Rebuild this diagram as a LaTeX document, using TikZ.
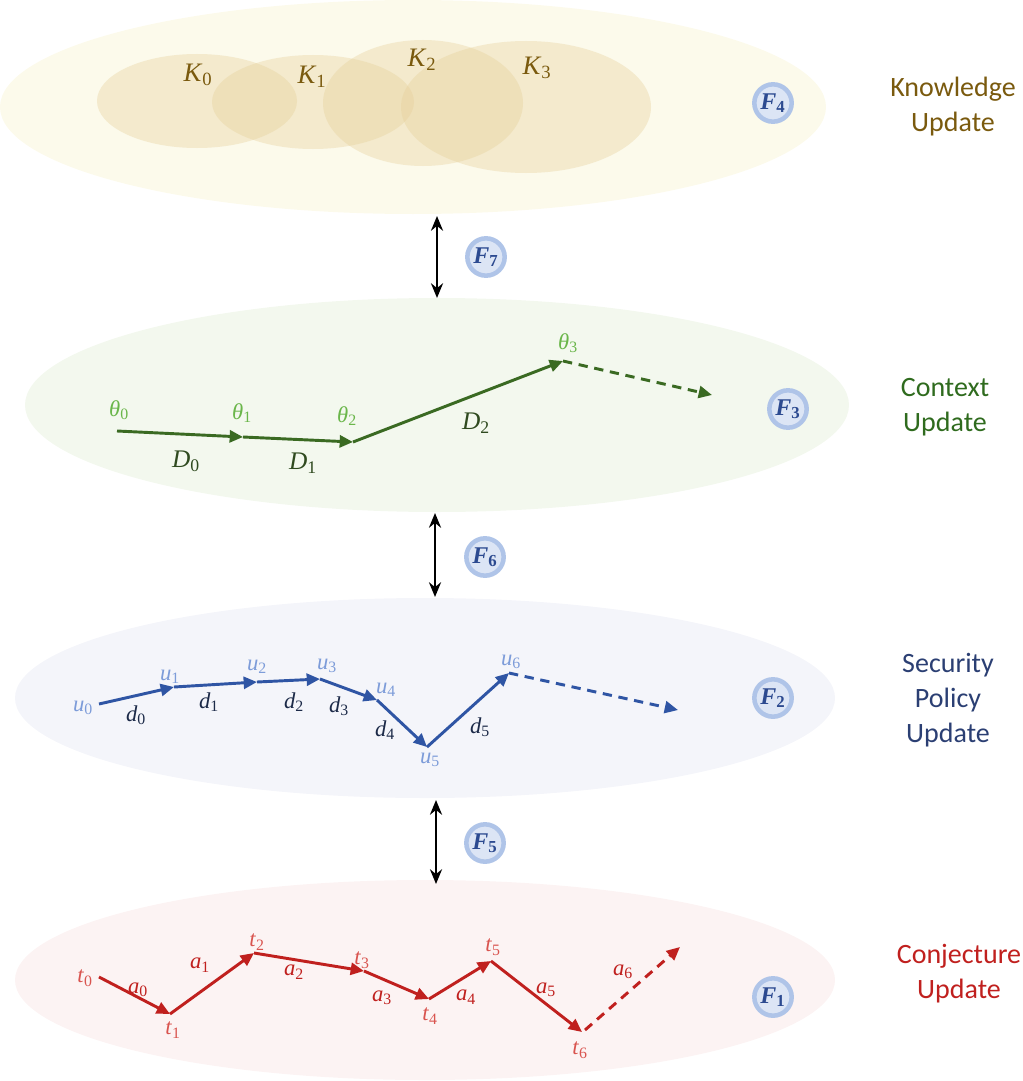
\documentclass[tikz,border=0pt]{standalone}
\usepackage{fontspec}
\setmainfont{Liberation Serif}
\newfontfamily\capfont{Carlito}
\usetikzlibrary{arrows.meta}

% layer colours
\definecolor{klayer}{HTML}{FCFAEB}
\definecolor{kset}{HTML}{E6CF98}
\definecolor{ktext}{HTML}{7A5A0E}
\definecolor{glayer}{HTML}{F3F8EE}
\definecolor{gline}{HTML}{3A6A22}
\definecolor{glab}{HTML}{6AB64A}
\definecolor{gdark}{HTML}{2F4A1F}
\definecolor{gtitle}{HTML}{2F6B1E}
\definecolor{blayer}{HTML}{F4F5FA}
\definecolor{bline}{HTML}{2F55A4}
\definecolor{blab}{HTML}{7D9CD9}
\definecolor{bdark}{HTML}{1C2A48}
\definecolor{btitle}{HTML}{2B3F73}
\definecolor{rlayer}{HTML}{FCF3F3}
\definecolor{rline}{HTML}{C0201E}
\definecolor{rlab}{HTML}{D9544F}
\definecolor{rtitle}{HTML}{C0201E}
\definecolor{ring}{HTML}{AFC4E8}
\definecolor{disc}{HTML}{DCE5F5}
\definecolor{ftext}{HTML}{2C4A90}

\newcommand\varsub[2]{\textit{#1}\textsubscript{#2}}
\newcommand\badgetext[1]{\textbf{\textit{F}}\textsubscript{\textbf{#1}}}

\tikzset{
  badge/.style={circle, fill=disc, draw=ring, line width=3.4pt, minimum size=28pt,
    inner sep=0pt, text=ftext, font=\fontsize{18}{19}\selectfont},
  title/.style={align=center, font=\capfont\fontsize{21}{26.3}\selectfont},
  seg/.style={line width=2.2pt, -{Triangle[length=10pt,width=9pt]}},
  future/.style={seg, dash pattern=on 7pt off 5pt},
  link/.style={line width=2pt, black, {Stealth[length=11pt,width=9pt]}-{Stealth[length=11pt,width=9pt]}},
  klabel/.style={text=ktext, font=\fontsize{20}{22}\selectfont},
  glabel/.style={text=glab, font=\fontsize{17}{19}\selectfont},
  dlabel/.style={font=\fontsize{19}{21}\selectfont},
  small/.style={font=\fontsize{17}{19}\selectfont},
}

\begin{document}
\begin{tikzpicture}[x=0.75pt,y=-0.75pt]
\useasboundingbox (0,0) rectangle (1022,1081);

% ---- layer backgrounds
\fill[klayer] (413,107) ellipse [x radius=413, y radius=107];
\fill[glayer] (437,405) ellipse [x radius=412, y radius=107];
\fill[blayer] (425,698) ellipse [x radius=410, y radius=100];
\fill[rlayer] (425,980) ellipse [x radius=410, y radius=100];

% ---- knowledge sets
\begin{scope}[fill=kset, fill opacity=0.36]
  \fill (197,101) ellipse [x radius=100, y radius=47];
  \fill (313,102) ellipse [x radius=101, y radius=47];
  \fill (423,103) ellipse [x radius=100, y radius=63];
  \fill (526,107) ellipse [x radius=125, y radius=66];
\end{scope}
\node[klabel] (k0) at (198,75) {\varsub{K}{0}};
\node[klabel] (k1) at (312,77) {\varsub{K}{1}};
\node[klabel] (k2) at (422,60) {\varsub{K}{2}};
\node[klabel] (k3) at (537,68) {\varsub{K}{3}};

% ---- context trajectory
\coordinate (g0) at (117,431);
\coordinate (g1) at (243,437);
\coordinate (g2) at (353,442);
\coordinate (g3) at (563,361);
\coordinate (g4) at (712,395);
\draw[seg, gline] (g0) -- (g1);
\draw[seg, gline] (g1) -- (g2);
\draw[seg, gline] (g2) -- (g3);
\draw[future, gline] (g3) -- (g4);
\node[glabel] (th0) at (119,410) {\varsub{θ}{0}};
\node[glabel] (th1) at (242,413) {\varsub{θ}{1}};
\node[glabel] (th2) at (347,416) {\varsub{θ}{2}};
\node[glabel] (th3) at (568,343) {\varsub{θ}{3}};
\node[dlabel, text=gdark] (D0) at (186,461) {\varsub{D}{0}};
\node[dlabel, text=gdark] (D1) at (303,463) {\varsub{D}{1}};
\node[dlabel, text=gdark] (D2) at (476,423) {\varsub{D}{2}};

% ---- security policy trajectory
\coordinate (b0) at (99,704);
\coordinate (b1) at (174,687);
\coordinate (b2) at (257,682);
\coordinate (b3) at (320,679);
\coordinate (b4) at (377,700);
\coordinate (b5) at (427,747);
\coordinate (b6) at (509,673);
\coordinate (b7) at (678,710);
\draw[seg, bline] (b0) -- (b1);
\draw[seg, bline] (b1) -- (b2);
\draw[seg, bline] (b2) -- (b3);
\draw[seg, bline] (b3) -- (b4);
\draw[seg, bline] (b4) -- (b5);
\draw[seg, bline] (b5) -- (b6);
\draw[future, bline] (b6) -- (b7);
\node[small, text=blab] (u0) at (83,708) {\varsub{u}{0}};
\node[small, text=blab] (u1) at (170,677) {\varsub{u}{1}};
\node[small, text=blab] (u2) at (257,667) {\varsub{u}{2}};
\node[small, text=blab] (u3) at (327,666) {\varsub{u}{3}};
\node[small, text=blab] (u4) at (386,690) {\varsub{u}{4}};
\node[small, text=blab] (u5) at (430,760) {\varsub{u}{5}};
\node[small, text=blab] (u6) at (511,662) {\varsub{u}{6}};
\node[small, text=bdark] (d0) at (136,715) {\varsub{d}{0}};
\node[small, text=bdark] (d1) at (209,702) {\varsub{d}{1}};
\node[small, text=bdark] (d2) at (294,702) {\varsub{d}{2}};
\node[small, text=bdark] (d3) at (339,706) {\varsub{d}{3}};
\node[small, text=bdark] (d4) at (385,730) {\varsub{d}{4}};
\node[small, text=bdark] (d5) at (480,727) {\varsub{d}{5}};

% ---- conjecture trajectory
\coordinate (r0) at (99,977);
\coordinate (r1) at (170,1014);
\coordinate (r2) at (254,953);
\coordinate (r3) at (364,971);
\coordinate (r4) at (429,999);
\coordinate (r5) at (491,961);
\coordinate (r6) at (582,1032);
\coordinate (r6s) at (585,1030);
\coordinate (r7) at (680,947);
\draw[seg, rline] (r0) -- (r1);
\draw[seg, rline] (r1) -- (r2);
\draw[seg, rline] (r2) -- (r3);
\draw[seg, rline] (r3) -- (r4);
\draw[seg, rline] (r4) -- (r5);
\draw[seg, rline] (r5) -- (r6);
\draw[future, rline] (r6s) -- (r7);
\node[small, text=rlab] (t0) at (85,978) {\varsub{t}{0}};
\node[small, text=rlab] (t1) at (173,1030) {\varsub{t}{1}};
\node[small, text=rlab] (t2) at (257,942) {\varsub{t}{2}};
\node[small, text=rlab] (t3) at (362,960) {\varsub{t}{3}};
\node[small, text=rlab] (t4) at (430,1016) {\varsub{t}{4}};
\node[small, text=rlab] (t5) at (493,947) {\varsub{t}{5}};
\node[small, text=rlab] (t6) at (580,1050) {\varsub{t}{6}};
\node[small, text=rline] (a0) at (138,990) {\varsub{a}{0}};
\node[small, text=rline] (a1) at (200,965) {\varsub{a}{1}};
\node[small, text=rline] (a2) at (294,972) {\varsub{a}{2}};
\node[small, text=rline] (a3) at (382,998) {\varsub{a}{3}};
\node[small, text=rline] (a4) at (466,997) {\varsub{a}{4}};
\node[small, text=rline] (a5) at (546,990) {\varsub{a}{5}};
\node[small, text=rline] (a6) at (623,972) {\varsub{a}{6}};

% ---- links between layers
\coordinate (l7a) at (437,216);
\coordinate (l7b) at (437,298);
\coordinate (l6a) at (435,513);
\coordinate (l6b) at (435,597);
\coordinate (l5a) at (436,800);
\coordinate (l5b) at (436,884);
\draw[link] (l7a) -- (l7b);
\draw[link] (l6a) -- (l6b);
\draw[link] (l5a) -- (l5b);

% ---- function badges
\node[badge] (F4) at (773,103) {\badgetext{4}};
\node[badge] (F7) at (486,257) {\badgetext{7}};
\node[badge] (F3) at (788,409) {\badgetext{3}};
\node[badge] (F6) at (485,557) {\badgetext{6}};
\node[badge] (F2) at (773,698) {\badgetext{2}};
\node[badge] (F5) at (485,843) {\badgetext{5}};
\node[badge] (F1) at (773,997) {\badgetext{1}};

% ---- layer titles
\node[title, text=ktext] (tk) at (953,107) {Knowledge\\Update};
\node[title, text=gtitle] (tc) at (945,407) {Context\\Update};
\node[title, text=btitle] (ts) at (948,700) {Security\\Policy\\Update};
\node[title, text=rtitle] (tj) at (959,974) {Conjecture\\Update};
\end{tikzpicture}
\end{document}
